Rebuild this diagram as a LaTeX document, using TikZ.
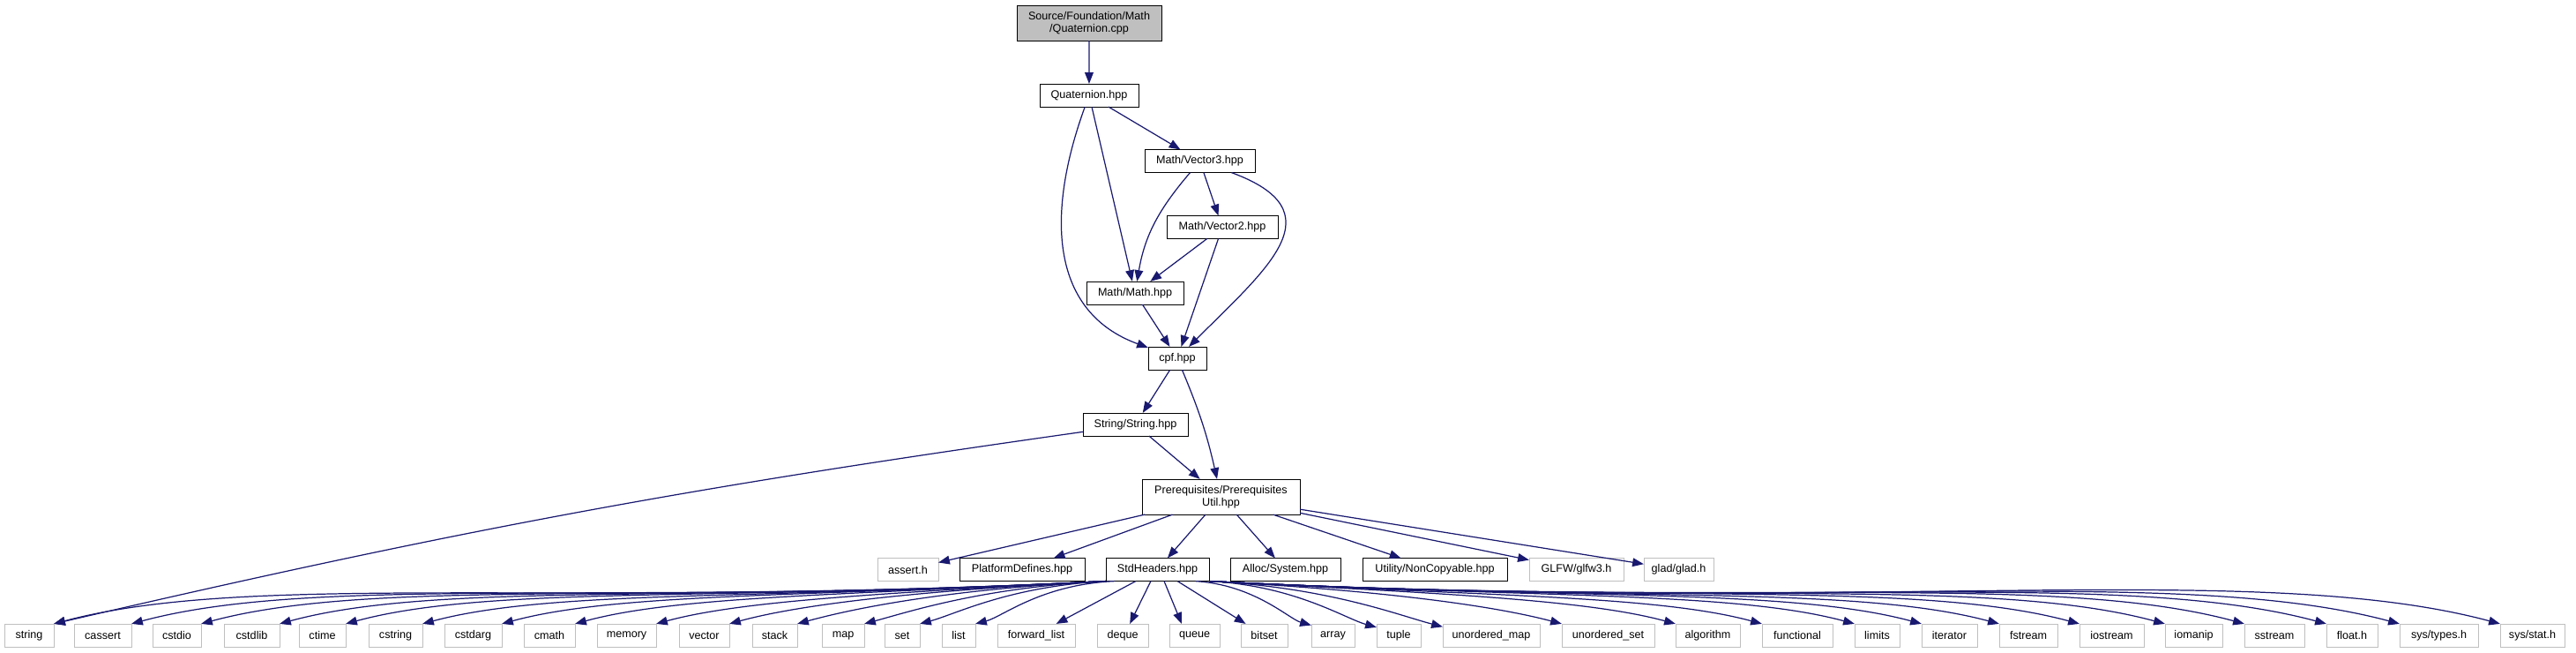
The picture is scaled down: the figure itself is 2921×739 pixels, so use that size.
\documentclass[tikz,border=0pt]{standalone}
\usepackage{fontspec}
\setmainfont{Liberation Sans}
\usepackage{tikz}
\usetikzlibrary{arrows.meta}
\definecolor{edgeblue}{HTML}{191970}
\definecolor{rootgray}{HTML}{BFBFBF}
\definecolor{sysgray}{HTML}{BFBFBF}

\begin{document}
\begin{tikzpicture}[x=1pt,y=-1pt,scale=0.18,transform shape,
  >={Triangle[length=2.3pt,width=1.75pt]},
  file/.style={draw=black,line width=0.17pt,fill=white,inner xsep=1pt,inner ysep=2pt,
    minimum height=26pt,align=center,font=\fontsize{12.6}{14.5}\selectfont},
  sysfile/.style={file,draw=sysgray},
  dep/.style={->,edgeblue,line width=0.22pt}]
  \useasboundingbox (0,0) rectangle (2921,739);
  \node[file,fill=rootgray,minimum width=164,minimum height=40] (root) at (1235,26)
    {Source/Foundation/Math\\/Quaternion.cpp};
  \node[file,minimum width=112] (quat) at (1235,108) {Quaternion.hpp};
  \node[file,minimum width=125] (vec3) at (1360.5,182.5) {Math/Vector3.hpp};
  \node[file,minimum width=126] (vec2) at (1386,257.5) {Math/Vector2.hpp};
  \node[file,minimum width=110] (math) at (1287,332) {Math/Math.hpp};
  \node[file,minimum width=66] (cpf) at (1335,406) {cpf.hpp};
  \node[file,minimum width=119] (str) at (1287.5,481) {String/String.hpp};
  \node[file,minimum width=179,minimum height=40] (prereq) at (1384.5,563)
    {Prerequisites/Prerequisites\\Util.hpp};
  \node[sysfile,minimum width=69] (assert) at (1029.5,645.5) {assert.h};
  \node[file,minimum width=142] (platform) at (1159,645.5) {PlatformDefines.hpp};
  \node[file,minimum width=117] (stdh) at (1312.5,645.5) {StdHeaders.hpp};
  \node[file,minimum width=125] (alloc) at (1457.5,645.5) {Alloc/System.hpp};
  \node[file,minimum width=164] (noncopy) at (1627,645.5) {Utility/NonCopyable.hpp};
  \node[sysfile,minimum width=107] (glfw) at (1787.5,645.5) {GLFW/glfw3.h};
  \node[sysfile,minimum width=79] (glad) at (1903.5,645.5) {glad/glad.h};

  \node[sysfile,minimum width=56] (string) at (33,720) {string};
  \node[sysfile,minimum width=65] (cassert) at (116.5,720) {cassert};
  \node[sysfile,minimum width=55] (cstdio) at (200.5,720) {cstdio};
  \node[sysfile,minimum width=63] (cstdlib) at (285.5,720) {cstdlib};
  \node[sysfile,minimum width=53] (ctime) at (365.5,720) {ctime};
  \node[sysfile,minimum width=61] (cstring) at (448.5,720) {cstring};
  \node[sysfile,minimum width=65] (cstdarg) at (536.5,720) {cstdarg};
  \node[sysfile,minimum width=58] (cmath) at (623,720) {cmath};
  \node[sysfile,minimum width=67] (memory) at (710.5,720) {memory};
  \node[sysfile,minimum width=57] (vector) at (798.5,720) {vector};
  \node[sysfile,minimum width=51] (stack) at (878.5,720) {stack};
  \node[sysfile,minimum width=48] (map) at (956,720) {map};
  \node[sysfile,minimum width=40] (set) at (1023,720) {set};
  \node[sysfile,minimum width=38] (list) at (1087,720) {list};
  \node[sysfile,minimum width=88] (fwdlist) at (1175,720) {forward\_list};
  \node[sysfile,minimum width=58] (deque) at (1273,720) {deque};
  \node[sysfile,minimum width=57] (queue) at (1354.5,720) {queue};
  \node[sysfile,minimum width=53] (bitset) at (1433.5,720) {bitset};
  \node[sysfile,minimum width=49] (array) at (1511.5,720) {array};
  \node[sysfile,minimum width=50] (tuple) at (1586,720) {tuple};
  \node[sysfile,minimum width=110] (umap) at (1691,720) {unordered\_map};
  \node[sysfile,minimum width=105] (uset) at (1823.5,720) {unordered\_set};
  \node[sysfile,minimum width=73] (algorithm) at (1936.5,720) {algorithm};
  \node[sysfile,minimum width=80] (functional) at (2038,720) {functional};
  \node[sysfile,minimum width=51] (limits) at (2128.5,720) {limits};
  \node[sysfile,minimum width=63] (iterator) at (2210.5,720) {iterator};
  \node[sysfile,minimum width=66] (fstream) at (2300,720) {fstream};
  \node[sysfile,minimum width=73] (iostream) at (2394.5,720) {iostream};
  \node[sysfile,minimum width=65] (iomanip) at (2487.5,720) {iomanip};
  \node[sysfile,minimum width=68] (sstream) at (2579,720) {sstream};
  \node[sysfile,minimum width=58] (floath) at (2667,720) {float.h};
  \node[sysfile,minimum width=89] (systypes) at (2765.5,720) {sys/types.h};
  \node[sysfile,minimum width=73] (sysstat) at (2871.5,720) {sys/stat.h};

  \draw[dep] (root) -- (quat);
  \draw[dep] (quat) -- (vec3);
  \draw[dep] (quat) -- (math);
  \draw[dep] (quat.250) .. controls +(-42,115) and +(-115,-42) .. (cpf.160);
  \draw[dep] (vec3.230) .. controls +(-35,41) and +(9,-53) .. (math.80);
  \draw[dep] (vec3) -- (vec2);
  \draw[dep] (vec3.340) .. controls +(120,44) and +(90,-90) .. (cpf.45);
  \draw[dep] (vec2) -- (math);
  \draw[dep] (vec2) -- (cpf);
  \draw[dep] (math) -- (cpf);
  \draw[dep] (cpf) -- (str);
  \draw[dep] (cpf) to[bend left=5] (prereq);
  \draw[dep] (str) -- (prereq);
  \draw[dep] (str.188) .. controls +(-460,65) and +(453,-105) .. (string.north east);

  \draw[dep] (prereq) -- (assert);
  \draw[dep] (prereq) -- (platform);
  \draw[dep] (prereq) -- (stdh);
  \draw[dep] (prereq) -- (alloc);
  \draw[dep] (prereq) -- (noncopy);
  \draw[dep] (prereq) -- (glfw);
  \draw[dep] (prereq) -- (glad);

  \draw[dep] (stdh.south west) .. controls +(-606,32) and +(225,-60) .. (string.north east);
  \draw[dep] (stdh.south west) .. controls +(-561,29) and +(209,-56) .. (cassert.north east);
  \draw[dep] (stdh.south west) .. controls +(-521,27) and +(194,-52) .. (cstdio.north east);
  \draw[dep] (stdh.south west) .. controls +(-476,25) and +(177,-48) .. (cstdlib.north east);
  \draw[dep] (stdh.south west) .. controls +(-438,23) and +(163,-44) .. (ctime.north east);
  \draw[dep] (stdh.south west) .. controls +(-394,21) and +(146,-39) .. (cstring.north east);
  \draw[dep] (stdh.south west) .. controls +(-348,18) and +(129,-35) .. (cstdarg.north east);
  \draw[dep] (stdh.south west) .. controls +(-306,16) and +(114,-31) .. (cmath.north east);
  \draw[dep] (stdh.south west) .. controls +(-259,14) and +(96,-26) .. (memory.north east);
  \draw[dep] (stdh.south west) .. controls +(-217,11) and +(81,-22) .. (vector.north east);
  \draw[dep] (stdh.south west) .. controls +(-178,9) and +(66,-18) .. (stack.north east);
  \draw[dep] (stdh.south west) .. controls +(-139,7) and +(52,-14) .. (map.north east);
  \draw[dep] (stdh.south west) .. controls +(-110,6) and +(41,-11) .. (set.north east);
  \draw[dep] (stdh.195) .. controls +(-84,4) and +(31,-8) .. (list.north east);
  \draw[dep] (stdh.208) -- (fwdlist.30);
  \draw[dep] (stdh.240) -- (deque.58);
  \draw[dep] (stdh.300) -- (queue.138);
  \draw[dep] (stdh.330) -- (bitset.148);
  \draw[dep] (stdh.343) .. controls +(67,4) and +(-25,-7) .. (array.155);
  \draw[dep] (stdh.south east) .. controls +(97,5) and +(-36,-10) .. (tuple.160);
  \draw[dep] (stdh.south east) .. controls +(135,7) and +(-50,-13) .. (umap.170);
  \draw[dep] (stdh.south east) .. controls +(203,11) and +(-76,-20) .. (uset.north west);
  \draw[dep] (stdh.south east) .. controls +(269,14) and +(-100,-27) .. (algorithm.north west);
  \draw[dep] (stdh.south east) .. controls +(319,17) and +(-119,-32) .. (functional.north west);
  \draw[dep] (stdh.south east) .. controls +(372,19) and +(-138,-37) .. (limits.north west);
  \draw[dep] (stdh.south east) .. controls +(410,21) and +(-153,-41) .. (iterator.north west);
  \draw[dep] (stdh.south east) .. controls +(455,24) and +(-169,-45) .. (fstream.north west);
  \draw[dep] (stdh.south east) .. controls +(501,26) and +(-187,-50) .. (iostream.north west);
  \draw[dep] (stdh.south east) .. controls +(551,29) and +(-205,-55) .. (iomanip.north west);
  \draw[dep] (stdh.south east) .. controls +(596,31) and +(-222,-60) .. (sstream.north west);
  \draw[dep] (stdh.south east) .. controls +(644,34) and +(-239,-64) .. (floath.north west);
  \draw[dep] (stdh.south east) .. controls +(686,36) and +(-255,-68) .. (systypes.north west);
  \draw[dep] (stdh.south east) .. controls +(744,39) and +(-277,-74) .. (sysstat.north west);
\end{tikzpicture}
\end{document}
